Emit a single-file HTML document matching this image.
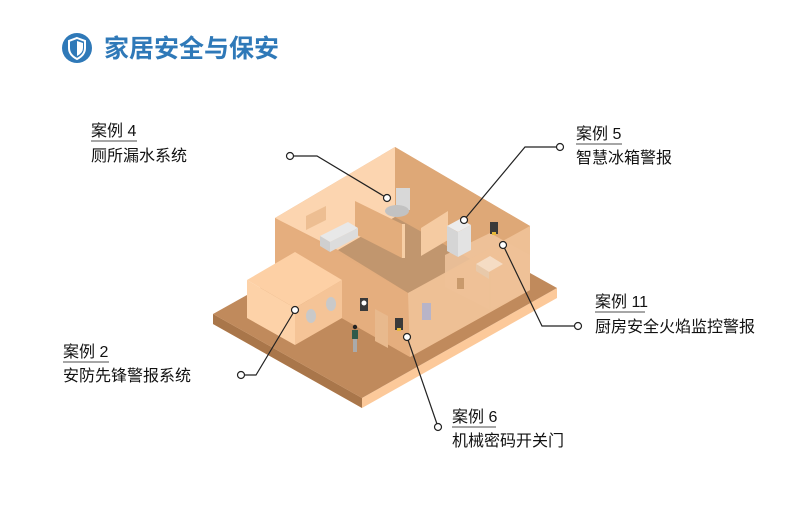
<!DOCTYPE html>
<html><head><meta charset="utf-8"><style>
body{margin:0;background:#fff;width:800px;height:521px;overflow:hidden;font-family:"Liberation Sans","Noto Sans CJK SC",sans-serif}
</style></head><body>
<svg width="800" height="521" viewBox="0 0 800 521" xmlns="http://www.w3.org/2000/svg" font-family="Liberation Sans, Noto Sans CJK SC, sans-serif">
<!-- title -->
<circle cx="77" cy="48" r="15" fill="#2f79b8"/>
<path d="M77 38 L85 41 L85 48 Q85 55 77 59 Q69 55 69 48 L69 41 Z" fill="none" stroke="#fff" stroke-width="2"/>
<path d="M77 41 L83 43 L83 48 Q83 53 77 56 Z" fill="#fff"/>
<text x="104" y="57" font-size="25" fill="#2f79b8" font-weight="bold">家居安全与保安</text>

<!-- platform -->
<polygon points="213,314 213,324 362,408 557,298 557,288 362,398" fill="#fcc99a"/>
<polygon points="213,314 213,324 362,408 362,398" fill="#a9764a"/>
<polygon points="213,314 408,205 557,288 362,398" fill="#c08a5c"/>

<!-- main block -->
<polygon points="275,218 395,147 530,226 530,290 410,357 275,280" fill="#e4ad7d"/>
<polygon points="275,218 395,147 395,217 338,250" fill="#fcd5b0"/>
<polygon points="395,147 530,226 470,260 395,217" fill="#dea877"/>
<polygon points="338,250 395,217 472,260 408,293" fill="#c1966e"/>
<!-- partition walls -->
<polygon points="355,201 402,224 402,258 355,234" fill="#e3ad7c"/>
<polygon points="402,224 405,224 405,258 402,258" fill="#f7cfa6"/>
<polygon points="421,228 448,211 448,240 421,256" fill="#f5cba2"/>
<!-- kitchen translucent area -->
<polygon points="445,255 490,233 530,255 530,290 490,310 445,287" fill="#f1c7a0" opacity="0.8"/>
<line x1="490" y1="262" x2="490" y2="310" stroke="#e9bb90" stroke-width="1"/>
<!-- front-left wall -->
<polygon points="275,218 408,293 410,357 275,280" fill="#e5ae7e"/>
<!-- front-right wall -->
<polygon points="408,293 530,226 530,290 410,357" fill="#eec197" opacity="0.95"/>
<!-- picture frame -->
<polygon points="306,216 326,206 326,220 306,230" fill="#edbe92"/>
<!-- sofa -->
<polygon points="320,236 348,222 358,228 330,242" fill="#e8e8e8"/>
<polygon points="320,236 330,242 330,252 320,246" fill="#cfcfcf"/>
<polygon points="330,242 358,228 358,237 330,252" fill="#dcdcdc"/>
<!-- toilet -->
<rect x="396" y="188" width="14" height="22" fill="#d8d8d8"/>
<ellipse cx="397" cy="211" rx="12" ry="6" fill="#c2c2c2"/>
<!-- fridge -->
<polygon points="447,226 460,219 471,225 458,232" fill="#ececec"/>
<polygon points="447,226 458,232 458,257 447,251" fill="#d5d5d5"/>
<polygon points="458,232 471,225 471,250 458,257" fill="#e3e3e3"/>
<!-- stove -->
<polygon points="476,264 490,256 503,264 489,272" fill="#f5dcc4"/>
<polygon points="476,264 489,272 489,279 476,271" fill="#e8c9aa"/>
<!-- devices -->
<rect x="490" y="222" width="8" height="12" fill="#3a3a3a"/><rect x="492" y="232" width="4" height="3" fill="#e6b93a"/>
<rect x="360" y="298" width="8" height="13" fill="#3a3a3a"/><circle cx="364" cy="303" r="2.5" fill="#fff"/>
<rect x="395" y="318" width="8" height="12" fill="#3a3a3a"/><rect x="397" y="328" width="4" height="3" fill="#e6b93a"/>
<rect x="422" y="303" width="9" height="17" fill="#b8b4c8"/>
<rect x="457" y="278" width="7" height="11" fill="#c99a6c"/>
<!-- door -->
<polygon points="375,309 388,316 388,348 375,341" fill="#e8b98d"/>
<!-- small box -->
<polygon points="247,280 295,252 342,280 295,308" fill="#fdd0a5"/>
<polygon points="247,280 295,308 295,345 247,318" fill="#fdd2a8"/>
<polygon points="295,308 342,280 342,318 295,345" fill="#f5c497"/>
<ellipse cx="311" cy="316" rx="5" ry="7" fill="#c9c9c9"/>
<ellipse cx="331" cy="304" rx="5" ry="7" fill="#c9c9c9"/>
<!-- person -->
<circle cx="355" cy="327" r="2.2" fill="#222"/>
<rect x="352" y="330" width="6" height="9" fill="#2e5a4a"/>
<rect x="353" y="339" width="4" height="13" fill="#aaa"/>

<!-- callouts -->
<g fill="none" stroke="#222" stroke-width="1.2">
<polyline points="293,156 317,156 387,198"/>
<polyline points="556,147 525,147 464,220"/>
<polyline points="503,245 542,326 574,326"/>
<polyline points="245,375 256,375 295,310"/>
<polyline points="407,337 437,424"/>
</g>
<g fill="#fff" stroke="#222" stroke-width="1.2">
<circle cx="290" cy="156" r="3.5"/><circle cx="387" cy="198" r="3.5"/>
<circle cx="560" cy="147" r="3.5"/><circle cx="464" cy="220" r="3.5"/>
<circle cx="503" cy="245" r="3.5"/><circle cx="578" cy="326" r="3.5"/>
<circle cx="241" cy="375" r="3.5"/><circle cx="295" cy="310" r="3.5"/>
<circle cx="407" cy="337" r="3.5"/><circle cx="438" cy="427" r="3.5"/>
</g>

<g font-size="16" fill="#111">
<text x="91" y="136">案例 4</text><line x1="91" y1="141" x2="137" y2="141" stroke="#888" stroke-width="1.5"/>
<text x="91" y="161">厕所漏水系统</text>
<text x="576" y="139">案例 5</text><line x1="576" y1="144" x2="622" y2="144" stroke="#888" stroke-width="1.5"/>
<text x="576" y="163">智慧冰箱警报</text>
<text x="595" y="307">案例 11</text><line x1="595" y1="312" x2="645" y2="312" stroke="#888" stroke-width="1.5"/>
<text x="595" y="332">厨房安全火焰监控警报</text>
<text x="63" y="357">案例 2</text><line x1="63" y1="362" x2="109" y2="362" stroke="#888" stroke-width="1.5"/>
<text x="63" y="381">安防先锋警报系统</text>
<text x="452" y="422">案例 6</text><line x1="452" y1="427" x2="496" y2="427" stroke="#888" stroke-width="1.5"/>
<text x="452" y="446">机械密码开关门</text>
</g>
</svg>
</body></html>
